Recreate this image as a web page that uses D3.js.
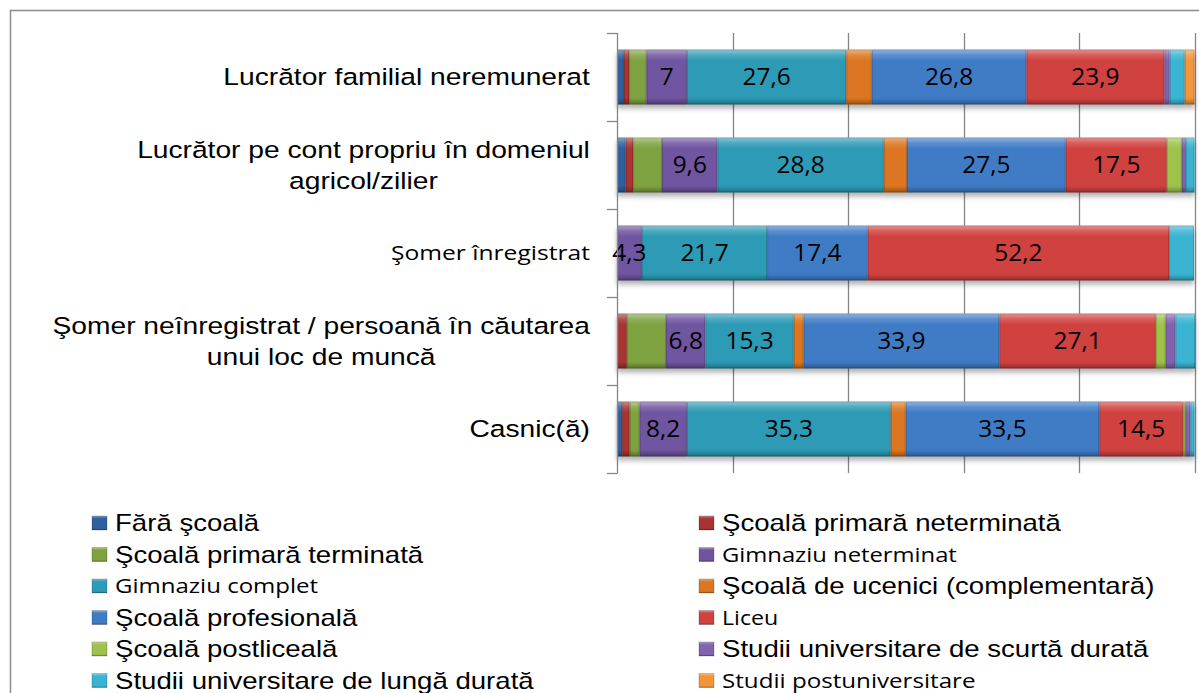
<!DOCTYPE html>
<html>
<head>
<meta charset="utf-8">
<script src="https://cdn.jsdelivr.net/npm/d3@7"></script>
<style>
body { margin: 0; background: #fff; }
text { font-family: "Liberation Sans", Arial, sans-serif; fill: #000; }
.cal { font-family: "Open Sans", sans-serif; }
</style>
</head>
<body>
<svg width="1199" height="693"></svg>
<script>
// categories (top to bottom), \n = line break in the label
const categories = [
    "Lucrător familial neremunerat",
    "Lucrător pe cont propriu în domeniul\nagricol/zilier",
    "Şomer înregistrat",
    "Şomer neînregistrat / persoană în căutarea\nunui loc de muncă",
    "Casnic(ă)"
]

const seriesNames = [
    "Fără şcoală",
    "Şcoală primară neterminată",
    "Şcoală primară terminată",
    "Gimnaziu neterminat",
    "Gimnaziu complet",
    "Şcoală de ucenici (complementară)",
    "Şcoală profesională",
    "Liceu",
    "Şcoală postliceală",
    "Studii universitare de scurtă durată",
    "Studii universitare de lungă durată",
    "Studii postuniversitare"
]

// one value per series, in the order of seriesNames (%)
const familial    = [1.2, 0.9, 3.0, 7.0, 27.6, 4.4, 26.8, 23.9, 0, 0.9, 2.6, 1.7]
const contPropriu = [1.5, 1.3, 5.0, 9.6, 28.8, 4.0, 27.5, 17.5, 2.6, 0.7, 1.5, 0]
const somerInreg  = [0, 0, 0, 4.3, 21.7, 0, 17.4, 52.2, 0, 0, 4.3, 0]
const somerNeinreg = [0, 1.7, 6.8, 6.8, 15.3, 1.7, 33.9, 27.1, 1.7, 1.7, 3.4, 0]
const casnic      = [0.9, 1.3, 1.7, 8.2, 35.3, 2.6, 33.5, 14.5, 0.4, 0.9, 0.7, 0]

const rows = [familial, contPropriu, somerInreg, somerNeinreg, casnic]

// series that show data labels
const labelled = ["Gimnaziu neterminat", "Gimnaziu complet", "Şcoală profesională", "Liceu"]

// texts drawn in the narrower face, with their size
const narrowSizes = {
    "Şomer înregistrat": 20.5,
    "Gimnaziu neterminat": 20,
    "Gimnaziu complet": 20.2,
    "Liceu": 19.5,
    "Studii postuniversitare": 20.3
}

const xTicks = [20, 40, 60, 80, 100]

const colors = ["#2f5f9e", "#a83431", "#7fa23f", "#7054a0", "#2d9bb6", "#dc7620",
                "#3f7cc6", "#d0423f", "#9fc24c", "#8263b0", "#3ab4d2", "#f39538"]

const stretch = 1.2   // the picture is wider than its text faces

const data = categories.map((c, i) => {
    const o = { cat: c }
    seriesNames.forEach((s, j) => { o[s] = rows[i][j] })
    return o
})

const svg = d3.select("svg")

const defs = svg.append("defs")

const shadow = defs.append("filter")
    .attr("id", "shadow")
    .attr("x", "-5%").attr("y", "-20%")
    .attr("width", "110%").attr("height", "160%")
shadow.append("feDropShadow")
    .attr("dx", 0).attr("dy", 4)
    .attr("stdDeviation", 2.5)
    .attr("flood-color", "#000")
    .attr("flood-opacity", 0.3)

colors.forEach((c, i) => {
    const g = defs.append("linearGradient")
        .attr("id", "g" + i)
        .attr("x1", 0).attr("y1", 0).attr("x2", 0).attr("y2", 1)
    const stops = [
        [0, d3.interpolateRgb(c, "#fff")(0.45)],
        [0.1, d3.interpolateRgb(c, "#fff")(0.15)],
        [0.2, c],
        [0.88, c],
        [1, d3.interpolateRgb(c, "#000")(0.3)]
    ]
    stops.forEach(s => {
        g.append("stop").attr("offset", s[0]).attr("stop-color", s[1])
    })
})

// chart border
svg.append("rect")
    .attr("x", 10.5).attr("y", 10.5)
    .attr("width", 1400).attr("height", 900)
    .attr("fill", "none")
    .attr("stroke", "#8c8c8c")
    .attr("stroke-width", 1.5)

const x = d3.scaleLinear()
    .domain([0, 100])
    .range([617, 1194.5])

const y = d3.scaleBand()
    .domain(categories)
    .range([33, 473])
    .paddingInner(0.375)
    .paddingOuter(0.1875)

const step = y.step()

// gridlines
svg.append("g")
    .selectAll("line")
    .data(xTicks)
    .enter()
    .append("line")
    .attr("x1", d => Math.round(x(d)) + 0.5)
    .attr("x2", d => Math.round(x(d)) + 0.5)
    .attr("y1", 33)
    .attr("y2", 473)
    .attr("stroke", "#868686")
    .attr("stroke-width", 1.3)

// stacked bars
const stack = d3.stack().keys(seriesNames)
const layers = stack(data)

const layerG = svg.append("g")
    .attr("filter", "url(#shadow)")
    .selectAll("g")
    .data(layers)
    .enter()
    .append("g")
    .attr("fill", (d, i) => `url(#g${i})`)

layerG.selectAll("rect.seg")
    .data(d => d.filter(p => p[1] - p[0] > 0))
    .enter()
    .append("rect")
    .attr("class", "seg")
    .attr("x", d => x(d[0]))
    .attr("width", d => x(d[1]) - x(d[0]))
    .attr("y", d => y(d.data.cat))
    .attr("height", y.bandwidth())

// thin bevel edges on each segment
layerG.selectAll("rect.edge")
    .data(d => d.filter(p => p[1] - p[0] > 0))
    .enter()
    .append("rect")
    .attr("class", "edge")
    .attr("x", d => x(d[0]) + 0.5)
    .attr("width", d => Math.max(0, x(d[1]) - x(d[0]) - 1))
    .attr("y", d => y(d.data.cat) + 0.5)
    .attr("height", y.bandwidth() - 1)
    .attr("fill", "none")
    .attr("stroke", "rgba(0,0,0,0.18)")
    .attr("stroke-width", 1)

// data labels
layers.forEach(layer => {
    if (!labelled.includes(layer.key)) return
    svg.append("g")
        .selectAll("text")
        .data(layer.filter(p => p[1] - p[0] > 0))
        .enter()
        .append("text")
        .attr("class", "cal")
        .attr("transform", d => `translate(${(x(d[0]) + x(d[1])) / 2},${y(d.data.cat) + y.bandwidth() / 2}) scale(1.04,1)`)
        .attr("dy", "0.36em")
        .attr("text-anchor", "middle")
        .attr("font-size", 23.5)
        .text(d => String(+(d[1] - d[0]).toFixed(1)).replace(".", ","))
})

// category axis
svg.append("line")
    .attr("x1", 617.5).attr("x2", 617.5)
    .attr("y1", 33).attr("y2", 473)
    .attr("stroke", "#868686")
    .attr("stroke-width", 1.3)

svg.append("g")
    .selectAll("line")
    .data(d3.range(categories.length + 1))
    .enter()
    .append("line")
    .attr("x1", 607).attr("x2", 617.5)
    .attr("y1", d => 33 + d * step + 0.5)
    .attr("y2", d => 33 + d * step + 0.5)
    .attr("stroke", "#868686")
    .attr("stroke-width", 1.3)

// category labels: block right-aligned, lines centred within it
categories.forEach(c => {
    const lines = c.split("\n")
    const narrow = narrowSizes[c]
    const lh = 31
    const cy = y(c) + y.bandwidth() / 2
    const g = svg.append("g")
    const texts = lines.map((l, k) => g.append("text")
        .attr("class", narrow ? "cal" : null)
        .attr("font-size", narrow || 23.5)
        .attr("dy", "0.36em")
        .attr("text-anchor", "middle")
        .text(l))
    const w = d3.max(texts, t => t.node().getComputedTextLength()) * stretch
    texts.forEach((t, k) => t.attr("transform",
        `translate(${590 - w / 2},${cy + (k - (lines.length - 1) / 2) * lh}) scale(${stretch},1)`))
})

// legend
const legend = svg.append("g")
    .selectAll("g")
    .data(seriesNames)
    .enter()
    .append("g")
    .attr("transform", (d, i) => {
        const col = i % 2
        const row = Math.floor(i / 2)
        return `translate(${col ? 699 : 92}, ${523 + row * 31.5})`
    })

legend.append("rect")
    .attr("x", 0).attr("y", -7)
    .attr("width", 15).attr("height", 14)
    .attr("fill", (d, i) => `url(#g${i})`)
    .attr("stroke", "rgba(0,0,0,0.25)")
    .attr("stroke-width", 0.8)

legend.append("text")
    .attr("class", d => narrowSizes[d] ? "cal" : null)
    .attr("transform", d => `translate(23,0) scale(${narrowSizes[d] ? 1.19 : stretch},1)`)
    .attr("dy", "0.36em")
    .attr("font-size", d => narrowSizes[d] || 23)
    .text(d => d)
</script>
</body>
</html>
